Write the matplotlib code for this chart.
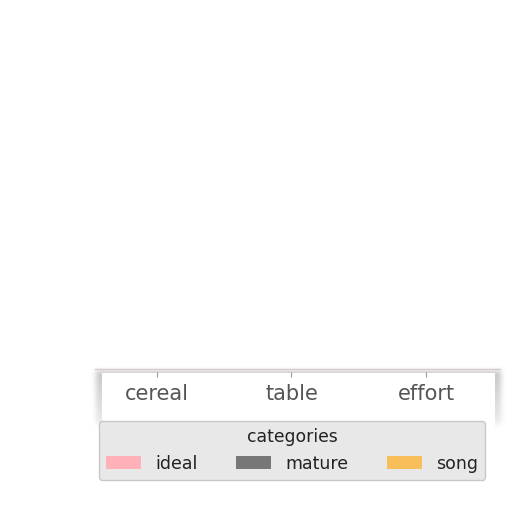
import numpy as np
import matplotlib
matplotlib.use("Agg")
import matplotlib.pyplot as plt

categories = ["cereal", "table", "effort"]
series = ["ideal", "mature", "song"]
ideal = [0.0, 0.0, 0.0]
mature = [0.0, 0.0, 0.0]
song = [0.0, 0.0, 0.0]
colors = ["#ffb0b8", "#777777", "#f7be5a"]

W = H = 512
fig = plt.figure(figsize=(5.12, 5.12), dpi=100)

# soft shadow behind the squashed plot box
bg = fig.add_axes([0, 0, 1, 1], zorder=0)
bg.set_axis_off()
mask = np.zeros((H, W))
mask[371:424, 96:501] = 1.0
k = np.exp(-0.5 * (np.arange(-8, 9) / 2.5) ** 2)
k /= k.sum()
blur = np.apply_along_axis(lambda r: np.convolve(r, k, mode="same"), 1, mask)
blur = np.apply_along_axis(lambda c: np.convolve(c, k, mode="same"), 0, blur)
fade = np.clip(1.0 - (np.arange(H) - 371) / 80.0, 0.35, 1.0)[:, None]
img = np.zeros((H, W, 4))
img[..., :3] = 0.5
img[..., 3] = blur * 0.45 * fade
inner = np.zeros((H, W), bool)
inner[373:430, 102:495] = True
img[inner] = [1, 1, 1, 1]
bg.imshow(img, extent=(0, W, H, 0), interpolation="bilinear")
bg.set_xlim(0, W)
bg.set_ylim(H, 0)

ax = fig.add_axes([95 / W, 1 - 372 / H, 405 / W, 3 / H], zorder=2)
ax.patch.set_alpha(0)
x = np.arange(len(categories))
w = 0.27
for i, (name, vals) in enumerate(zip(series, [ideal, mature, song])):
    ax.bar(x + (i - 1) * w, vals, w, color=colors[i], label=name)
ax.set_xlim(-0.46, 2.55)
ax.set_ylim(0, 1)
ax.set_yticks([])
for s in ["left", "right", "bottom"]:
    ax.spines[s].set_visible(False)
ax.spines["top"].set_color("#dccbcd")
ax.spines["top"].set_linewidth(1.0)
ax.set_xticks(x)
ax.set_xticklabels(categories, fontsize=15, color="#555555")
ax.tick_params(axis="x", length=3.5, width=0.8, color="#999999", pad=5)

leg = ax.legend(loc="upper center", bbox_to_anchor=(292 / W, 1 - 421 / H),
                bbox_transform=fig.transFigure, borderaxespad=0,
                ncol=3, title="categories", fontsize=12.5, title_fontsize=12.4,
                handlelength=2.05, columnspacing=2.2, frameon=True, fancybox=True)
leg.get_frame().set_facecolor("#e8e8e8")
leg.get_frame().set_edgecolor("#c8c8c8")
leg.get_frame().set_alpha(1)
for t in leg.get_texts():
    t.set_color("#222222")
leg.get_title().set_color("#222222")

fig.savefig("out.png", dpi=100)
